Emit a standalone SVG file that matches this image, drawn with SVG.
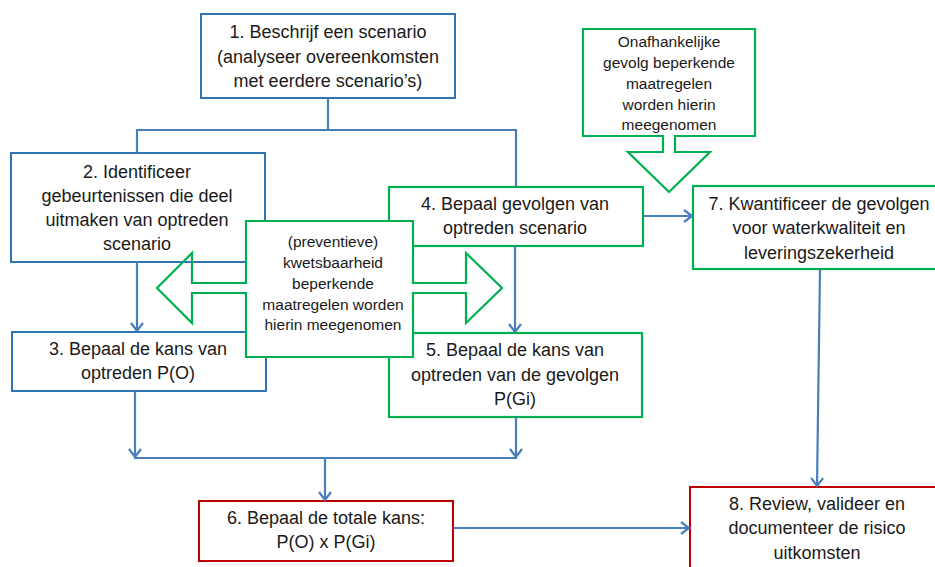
<svg xmlns="http://www.w3.org/2000/svg" width="935" height="567" viewBox="0 0 935 567">
<defs>
<marker id="ah" markerUnits="userSpaceOnUse" markerWidth="14" markerHeight="16" refX="9" refY="7" orient="auto">
<path d="M1,1 L9,7 L1,13" fill="none" stroke="#4A7EBB" stroke-width="2.2"/>
</marker>
<style>
.blue{fill:#fff;stroke:#2E75B6;stroke-width:2}
.green{fill:#fff;stroke:#00B050;stroke-width:2.2}
.red{fill:#fff;stroke:#C00000;stroke-width:2}
.t{font-family:"Liberation Sans",Arial,sans-serif;font-size:18px;fill:#1a1a1a;text-anchor:middle}
.s{font-family:"Liberation Sans",Arial,sans-serif;font-size:15.5px;fill:#1a1a1a;text-anchor:middle}
.c{fill:none;stroke:#4A7EBB;stroke-width:2.2}
</style>
</defs>
<rect width="935" height="567" fill="#fff"/>

<g id="n1"><rect class="blue" x="201" y="14" width="254" height="84"/>
<text class="t" x="328" y="38">1. Beschrijf een scenario</text>
<text class="t" x="328" y="63">(analyseer overeenkomsten</text>
<text class="t" x="328" y="87">met eerdere scenario’s)</text></g>

<g id="n2"><rect class="blue" x="11" y="153" width="254" height="109"/>
<text class="t" x="137" y="178">2. Identificeer</text>
<text class="t" x="137" y="202">gebeurtenissen die deel</text>
<text class="t" x="137" y="226">uitmaken van optreden</text>
<text class="t" x="137" y="250">scenario</text></g>

<g id="n3"><rect class="blue" x="12" y="332" width="254" height="59"/>
<text class="t" x="138" y="355">3. Bepaal de kans van</text>
<text class="t" x="138" y="379">optreden P(O)</text></g>

<g id="n4"><rect class="green" x="389" y="187" width="254" height="59"/>
<text class="t" x="515" y="210">4. Bepaal gevolgen van</text>
<text class="t" x="515" y="234">optreden scenario</text></g>

<g id="n5"><rect class="green" x="389" y="333" width="253" height="84"/>
<text class="t" x="515" y="356">5. Bepaal de kans van</text>
<text class="t" x="515" y="381">optreden van de gevolgen</text>
<text class="t" x="515" y="405">P(Gi)</text></g>

<g id="n6"><rect class="red" x="199" y="501" width="254" height="60"/>
<text class="t" x="326" y="524">6. Bepaal de totale kans:</text>
<text class="t" x="326" y="548">P(O) x P(Gi)</text></g>

<g id="n7"><rect class="green" x="693" y="186" width="260" height="83"/>
<text class="t" x="819" y="210">7. Kwantificeer de gevolgen</text>
<text class="t" x="819" y="234">voor waterkwaliteit en</text>
<text class="t" x="819" y="259">leveringszekerheid</text></g>

<g id="n8"><rect class="red" x="690" y="487" width="270" height="100"/>
<text class="t" x="817" y="510">8. Review, valideer en</text>
<text class="t" x="817" y="534">documenteer de risico</text>
<text class="t" x="817" y="559">uitkomsten</text></g>

<g id="connectors">
<path class="c" d="M328,98 V130 M137,130 H516 M137,153 V129 M516,187 V129"/>
<path class="c" d="M137,262 V331" marker-end="url(#ah)"/>
<path class="c" d="M515,246 V332" marker-end="url(#ah)"/>
<path class="c" d="M135,391 V457" marker-end="url(#ah)"/>
<path class="c" d="M516,417 V457" marker-end="url(#ah)"/>
<path class="c" d="M134,458 H517"/>
<path class="c" d="M325,458 V500" marker-end="url(#ah)"/>
<path class="c" d="M453,528 H689" marker-end="url(#ah)"/>
<path class="c" d="M643,216 H692" marker-end="url(#ah)"/>
<path class="c" d="M820,269 L817,486" marker-end="url(#ah)"/>
</g>

<g id="n9">
<rect x="246" y="221" width="167" height="136" fill="#fff"/>
<path d="M246,221 H413 V283 H466 V253 L502,288 L466,323 V293 H413 V357 H246 V293 H192 V323 L157,288 L192,253 V283 H246 Z" fill="none" stroke="#00B050" stroke-width="2.2" stroke-linejoin="miter"/>
<text class="s" x="333" y="247">(preventieve)</text>
<text class="s" x="333" y="268">kwetsbaarheid</text>
<text class="s" x="333" y="289">beperkende</text>
<text class="s" x="333" y="310">maatregelen worden</text>
<text class="s" x="333" y="330">hierin meegenomen</text>
</g>

<g id="n10">
<path d="M583,29 H755 V136 H675 V152 H710 L669,192 L628,152 H663 V136 H583 Z" fill="#fff" stroke="#00B050" stroke-width="2.2"/>
<text class="s" x="669" y="47">Onafhankelijke</text>
<text class="s" x="669" y="68">gevolg beperkende</text>
<text class="s" x="669" y="89">maatregelen</text>
<text class="s" x="669" y="110">worden hierin</text>
<text class="s" x="669" y="130">meegenomen</text>
</g>
</svg>
